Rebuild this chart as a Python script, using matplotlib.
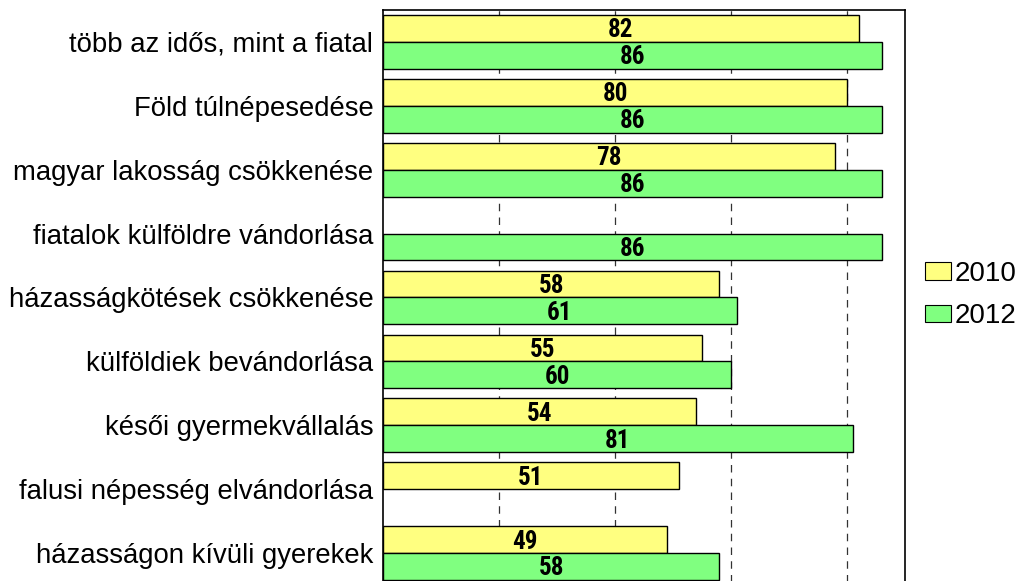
import matplotlib
matplotlib.use("Agg")
import matplotlib.pyplot as plt
import numpy as np
from matplotlib.patches import Patch
from matplotlib import font_manager

categories = [
    "több az idős, mint a fiatal",
    "Föld túlnépesedése",
    "magyar lakosság csökkenése",
    "fiatalok külföldre vándorlása",
    "házasságkötések csökkenése",
    "külföldiek bevándorlása",
    "késői gyermekvállalás",
    "falusi népesség elvándorlása",
    "házasságon kívüli gyerekek",
]
values_2010 = [82, 80, 78, None, 58, 55, 54, 51, 49]
values_2012 = [86, 86, 86, 86, 61, 60, 81, None, 58]
series_names = ["2010", "2012"]
colors = ["#FFFF80", "#80FF80"]

available = {f.name for f in font_manager.fontManager.ttflist}
narrow = None
for cand in ["Liberation Sans Narrow", "Arial Narrow", "DejaVu Sans Condensed",
             "Roboto Condensed", "Open Sans Condensed", "Noto Sans Condensed"]:
    if cand in available:
        narrow = cand
        break

fig = plt.figure(figsize=(10.21, 5.81), dpi=100)
ax = fig.add_axes([383/1021, 1 - 585/581, (905-383)/1021, 575/581])

n = len(categories)
y = np.arange(n)
h = 0.42
if narrow:
    label_font = dict(family=[narrow, "DejaVu Sans"], fontweight="bold", fontsize=18)
else:
    label_font = dict(family=["Roboto", "DejaVu Sans"], fontweight="bold", fontsize=17,
                      fontstretch="condensed")

for vals, off, col in [(values_2010, -h/2, colors[0]), (values_2012, h/2, colors[1])]:
    for i, v in enumerate(vals):
        if v is None:
            continue
        ax.barh(y[i] + off, v, height=h, color=col, edgecolor="black", linewidth=1.0, zorder=3)
        ax.text(v / 2, y[i] + off + 0.03, str(v), ha="center", va="center", zorder=4, **label_font)

ax.set_xlim(0, 90)
ax.set_ylim(n - 0.5, -0.5)
ax.set_xticks([20, 40, 60, 80])
ax.xaxis.grid(True, linestyle=(0, (6, 5)), color="#333333", linewidth=0.9, zorder=0)
ax.tick_params(axis="x", length=0, labelbottom=False)
ax.set_yticks(y)
ax.set_yticklabels(categories, family=["Liberation Sans", "DejaVu Sans"], fontsize=19.8)
ax.tick_params(axis="y", length=0, pad=7)
for s in ["left", "top", "right"]:
    ax.spines[s].set_color("black")
    ax.spines[s].set_linewidth(1.2)
ax.spines["bottom"].set_visible(False)

handles = [Patch(facecolor=c, edgecolor="black", linewidth=0.8) for c in colors]
fig.legend(handles, series_names, loc="center left", bbox_to_anchor=(925/1021, 1 - 295/581),
           frameon=False, prop=dict(family=["Liberation Sans", "DejaVu Sans"], size=20),
           handlelength=0.95, handleheight=0.6, handletextpad=0.1, labelspacing=0.6,
           borderpad=0, borderaxespad=0)

fig.savefig("out.png", dpi=100)
